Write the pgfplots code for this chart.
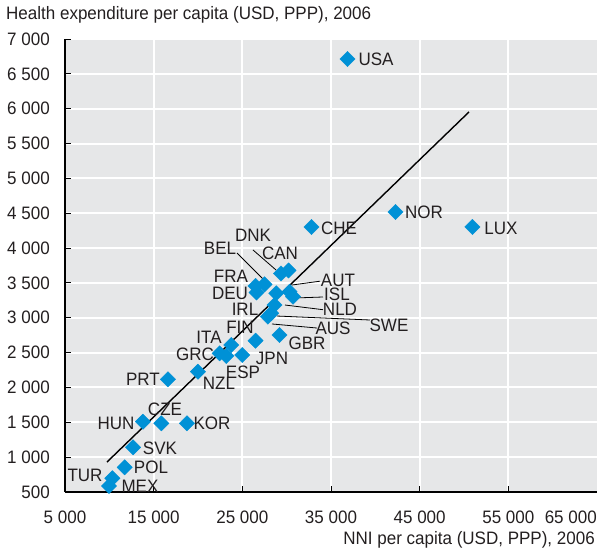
\documentclass[border=0pt]{standalone}
\usepackage{pgfplots}
\pgfplotsset{compat=1.18}
\usepackage{fontspec}
\setmainfont{Liberation Sans}[FakeStretch=0.945]
\definecolor{bg}{RGB}{230,231,232}
\definecolor{oblue}{RGB}{0,145,214}
\definecolor{txt}{RGB}{35,31,32}
\tikzset{lab/.style={inner sep=0pt, anchor=center, text=txt}}
\begin{document}
\begin{tikzpicture}[font=\fontsize{18bp}{22bp}\selectfont, text=txt]
\useasboundingbox (0,0) rectangle (597bp,552bp);
\begin{axis}[
  at={(65bp,60bp)}, anchor=south west,
  scale only axis, width=532bp, height=453bp,
  xmin=5000, xmax=65000, ymin=500, ymax=7000,
  scaled x ticks=false, scaled y ticks=false,
  axis x line=bottom, axis y line=left,
  axis line style={-, line width=1.3bp, black},
  xtick={5000,15000,25000,35000,45000,55000},
  xticklabels={{5 000},{15 000},{25 000},{35 000},{45 000},{55 000}},
  extra x ticks={65000}, extra x tick labels={{65 000}},
  extra x tick style={grid=none, major tick length=0pt, xticklabel style={anchor=north east}},
  ytick={500,1000,1500,2000,2500,3000,3500,4000,4500,5000,5500,6000,6500,7000},
  yticklabels={{500},{1 000},{1 500},{2 000},{2 500},{3 000},{3 500},{4 000},{4 500},{5 000},{5 500},{6 000},{6 500},{7 000}},
  tick align=inside, major tick length=6bp,
  tick style={black, line width=1bp},
  grid=major, major grid style={white, line width=2bp},
  axis background/.style={fill=bg},
  xticklabel style={anchor=north, inner sep=0pt, yshift=-19bp, text=txt},
  yticklabel style={anchor=east, inner sep=0pt, xshift=-15bp, text=txt},
  clip=false,
]
% regression line
\addplot[black, line width=1.4bp] coordinates {(9737,930) (50563,5953)};
% countries
\addplot[only marks, mark=square*, mark size=5.4bp, color=oblue,
  mark options={rotate=45, fill=oblue, draw=oblue}] table {
x y
36860 6714
42270 4518
50945 4303
32804 4303
30212 3679
29367 3635
27508 3480
26494 3456
26607 3363
30325 3374
30720 3303
28826 3351
28634 3183
28263 3064
27880 3016
29198 2753
26494 2671
23756 2609
22437 2490
23192 2452
24995 2466
19990 2226
16606 2117
13790 1509
15866 1486
18752 1486
12674 1141
11732 854
10341 697
9958 586
};
% leader lines
\draw[black, line width=0.8bp] (axis cs:26203,3973) -- (axis cs:28797,3686);
\draw[black, line width=0.8bp] (axis cs:24398,3929) -- (axis cs:27331,3556);
\draw[black, line width=0.8bp] (axis cs:33759,3525) -- (axis cs:30601,3470);
\draw[black, line width=0.8bp] (axis cs:34097,3298) -- (axis cs:30939,3284);
\draw[black, line width=0.8bp] (axis cs:34097,3116) -- (axis cs:29811,3183);
\draw[black, line width=0.8bp] (axis cs:39398,2968) -- (axis cs:28909,3025);
\draw[black, line width=0.8bp] (axis cs:33421,2853) -- (axis cs:28345,2911);
% labels
\node[lab] at (axis cs:40075,6713) {USA};
\node[lab] at (axis cs:45488,4518) {NOR};
\node[lab] at (axis cs:54172,4288) {LUX};
\node[lab] at (axis cs:35902,4288) {CHE};
\node[lab] at (axis cs:26203,4188) {DNK};
\node[lab] at (axis cs:29248,3929) {CAN};
\node[lab] at (axis cs:22481,4001) {BEL};
\node[lab] at (axis cs:23721,3600) {FRA};
\node[lab] at (axis cs:23609,3345) {DEU};
\node[lab] at (axis cs:35789,3530) {AUT};
\node[lab] at (axis cs:35676,3335) {ISL};
\node[lab] at (axis cs:36015,3125) {NLD};
\node[lab] at (axis cs:25300,3126) {IRL};
\node[lab] at (axis cs:41541,2896) {SWE};
\node[lab] at (axis cs:35225,2850) {AUS};
\node[lab] at (axis cs:32293,2638) {GBR};
\node[lab] at (axis cs:24737,2868) {FIN};
\node[lab] at (axis cs:21240,2724) {ITA};
\node[lab] at (axis cs:19661,2480) {GRC};
\node[lab] at (axis cs:28345,2423) {JPN};
\node[lab] at (axis cs:25075,2222) {ESP};
\node[lab] at (axis cs:22368,2064) {NZL};
\node[lab] at (axis cs:13797,2121) {PRT};
\node[lab] at (axis cs:10752,1490) {HUN};
\node[lab] at (axis cs:16278,1691) {CZE};
\node[lab] at (axis cs:21579,1490) {KOR};
\node[lab] at (axis cs:15714,1131) {SVK};
\node[lab] at (axis cs:14699,859) {POL};
\node[lab] at (axis cs:7256,744) {TUR};
\node[lab] at (axis cs:13459,586) {MEX};
\end{axis}
\node[anchor=base west, inner sep=0pt] at (6bp,532bp) {Health expenditure per capita (USD, PPP), 2006};
\node[anchor=base east, inner sep=0pt] at (595bp,7.5bp) {NNI per capita (USD, PPP), 2006};
\end{tikzpicture}
\end{document}
